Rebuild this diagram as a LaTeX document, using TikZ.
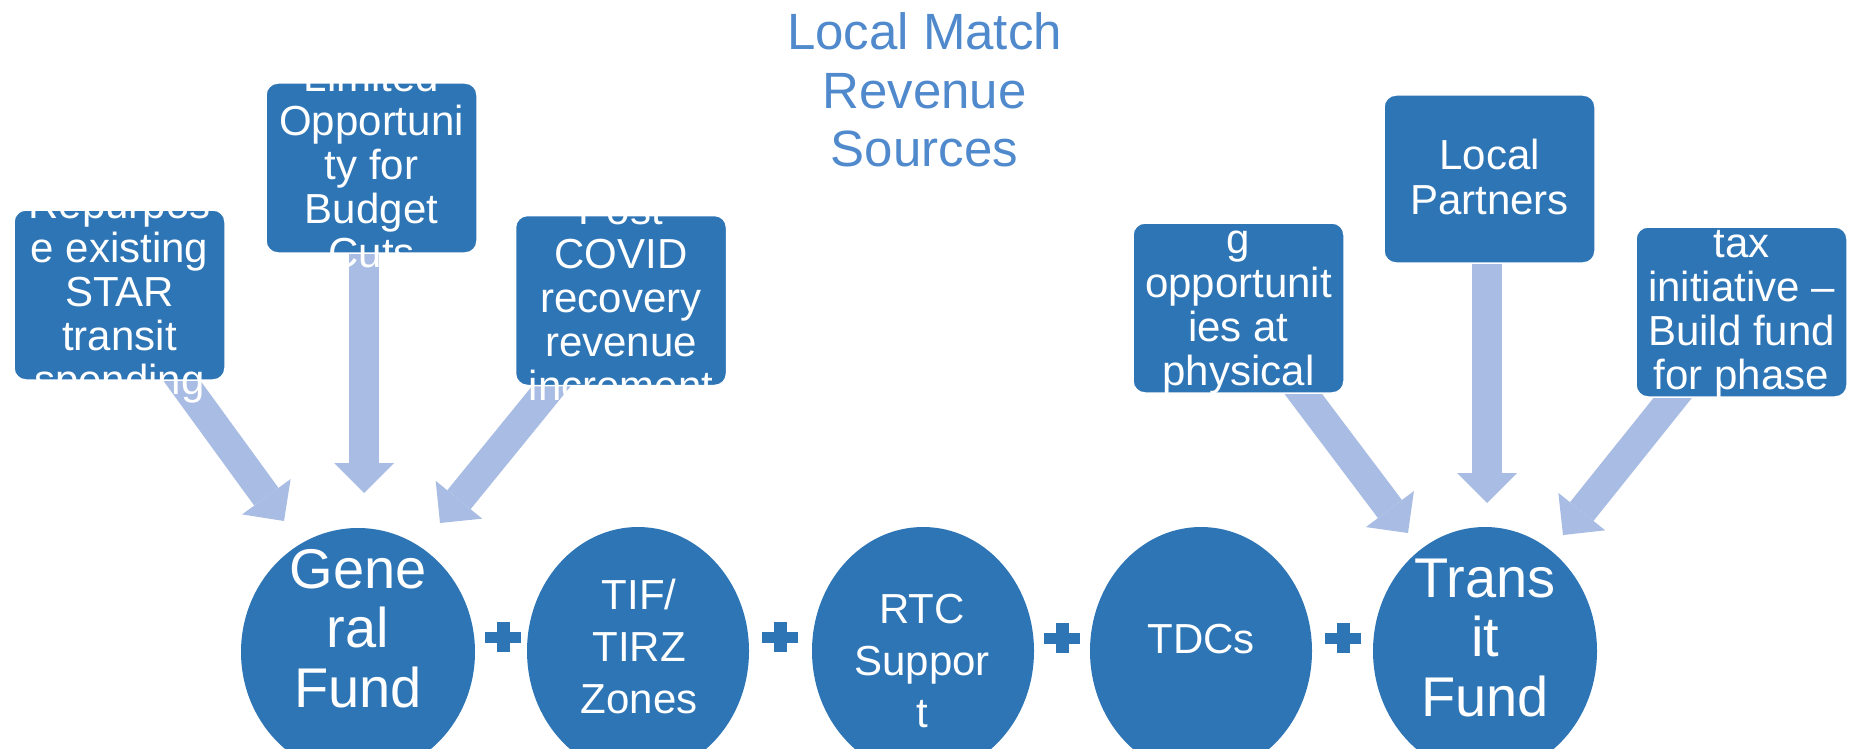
\documentclass[tikz,border=0pt]{standalone}
\usepackage{fontspec}
\setmainfont{Liberation Sans}
\usetikzlibrary{arrows.meta,shapes.geometric}
\pgfdeclarelayer{background}
\pgfsetlayers{background,main}
\definecolor{fillblue}{RGB}{46,117,182}
\definecolor{titleblue}{RGB}{80,138,205}
\definecolor{arrowblue}{RGB}{168,188,228}

\begin{document}
\begin{tikzpicture}[x=1pt,y=-1pt,
  srcbox/.style={draw=white, line width=1.5pt, fill=fillblue, rounded corners=12pt,
    minimum width=211pt, minimum height=170pt, inner sep=0pt},
  % multi-line captions are placed by the baseline of their last line
  boxtext/.style={text=white, align=center, anchor=base, inner sep=0pt,
    font=\fontsize{42}{44}\selectfont},
  oval/.style={ellipse, fill=fillblue, minimum height=248pt, inner sep=0pt},
  bigtext/.style={text=white, align=center, anchor=base, inner sep=0pt,
    font=\fontsize{56}{59.5}\selectfont},
  midtext/.style={text=white, align=center, anchor=base, inner sep=0pt,
    font=\fontsize{42}{52}\selectfont},
  heading/.style={text=titleblue, align=center, anchor=base, inner sep=0pt,
    font=\fontsize{51}{58.5}\selectfont},
  feed/.style={draw=arrowblue, line width=30pt,
    -{Triangle[width=60pt,length=30pt,line width=0pt]}},
  plussign/.pic={
    \fill[fillblue] (-18,-5.5) rectangle (18,5.5);
    \fill[fillblue] (-6.5,-15) rectangle (6.5,15);
  }]

\useasboundingbox (0,0) rectangle (1858,749);
\clip (0,0) rectangle (1858,749);

% heading
\node[heading] (title) at (924.5,167) {Local Match\\Revenue\\Sources};

% source boxes
\node[srcbox] (box1) at (119.5,295) {};
\node[srcbox] (box2) at (371.5,168) {};
\node[srcbox] (box3) at (621,300.5) {};
\node[srcbox] (box4) at (1238.5,308) {};
\node[srcbox, minimum height=168pt] (box5) at (1489.5,179) {};
\node[srcbox] (box6) at (1741.5,312) {};

% box captions (they run past the box edges)
\node[boxtext] (box1txt) at (119.5,394) {Repurpos\\e existing\\STAR\\transit\\spending};
\node[boxtext] (box2txt) at (371.5,267) {Limited\\Opportuni\\ty for\\Budget\\Cuts};
\node[boxtext] (box3txt) at (621,400) {Post\\COVID\\recovery\\revenue\\increment};
\node[boxtext] (box4txt) at (1238.5,385) {g\\opportunit\\ies at\\physical};
\node[boxtext] (box5txt) at (1489.5,214) {Local\\Partners};
\node[boxtext] (box6txt) at (1741.5,389) {tax\\initiative --\\Build fund\\for phase};

% funding sources
\node[oval, minimum width=234pt] (gen) at (358,652) {};
\node[oval, minimum width=222pt] (tif) at (638,651) {};
\node[oval, minimum width=222pt] (rtc) at (923,651) {};
\node[oval, minimum width=222pt] (tdc) at (1201,651) {};
\node[oval, minimum width=224pt] (trn) at (1485,651) {};

\node[bigtext] (gentxt) at (358,707) {Gene\\ral\\Fund};
\node[midtext] (tiftxt) at (639,713) {TIF/\\TIRZ\\Zones};
\node[midtext] (rtctxt) at (922,727) {RTC\\Suppor\\t};
\node[midtext] (tdctxt) at (1201,653) {TDCs};
\node[bigtext] (trntxt) at (1485,716) {Trans\\it\\Fund};

\pic at (503,637) {plussign};
\pic at (780,637) {plussign};
\pic at (1062,638) {plussign};
\pic at (1343,638) {plussign};

% arrow tips
\coordinate (t1) at (284,521);
\coordinate (t2) at (364,493);
\coordinate (t3) at (440,523);
\coordinate (t4) at (1408,533);
\coordinate (t5) at (1487,503);
\coordinate (t6) at (1563,535);

\begin{pgfonlayer}{background}
  \fill[white] (0,0) rectangle (1858,749);
  \draw[feed] (box1.center) -- (t1);
  \draw[feed] (box2.center -| t2) -- (t2);
  \draw[feed] (box3.center) -- (t3);
  \draw[feed] (box4.center) -- (t4);
  \draw[feed] (box5.center -| t5) -- (t5);
  \draw[feed] (box6.center) -- (t6);
\end{pgfonlayer}
\end{tikzpicture}
\end{document}
